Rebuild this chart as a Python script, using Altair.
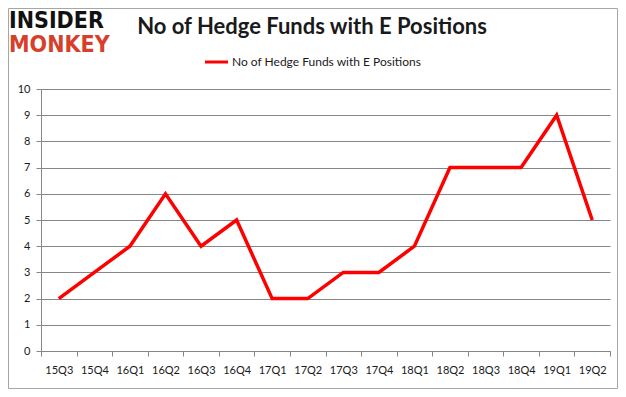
import altair as alt
import pandas as pd

quarters = ["15Q3", "15Q4", "16Q1", "16Q2", "16Q3", "16Q4", "17Q1", "17Q2",
            "17Q3", "17Q4", "18Q1", "18Q2", "18Q3", "18Q4", "19Q1", "19Q2"]
funds = [2, 3, 4, 6, 4, 5, 2, 2, 3, 3, 4, 7, 7, 7, 9, 5]
series_name = "No of Hedge Funds with E Positions"
title_text = "No of Hedge Funds with E Positions"

df = pd.DataFrame({"quarter": quarters, "funds": funds})

W, H = 569, 262
FONT = "Lato"

base = alt.Chart(df)

line = base.mark_line(color="#ff0000", strokeWidth=3.5).encode(
    x=alt.X("quarter:N", sort=quarters,
            scale=alt.Scale(type="band", paddingInner=0, paddingOuter=0),
            axis=alt.Axis(title=None, labelAngle=0, tickBand="extent",
                          grid=False, domainColor="#868686", tickColor="#868686",
                          tickSize=5, labelPadding=8, labelFont=FONT,
                          labelFontSize=11, labelColor="#1a1a1a")),
    y=alt.Y("funds:Q",
            scale=alt.Scale(domain=[0, 10], nice=False),
            axis=alt.Axis(title=None, values=list(range(0, 11)), grid=True,
                          gridColor="#868686", domainColor="#868686",
                          tickColor="#868686", tickSize=5, labelPadding=6,
                          labelFont=FONT, labelFontSize=11, labelColor="#1a1a1a")),
)

one = pd.DataFrame({"k": [0]})

frame = alt.Chart(one).mark_rect(fill=None, stroke="#a6a6a6", strokeWidth=1).encode(
    x=alt.value(-32.5), x2=alt.value(576.5), y=alt.value(-80.5), y2=alt.value(299.5)
)

title = alt.Chart(one).mark_text(
    text=title_text, font=FONT, fontSize=22, fontWeight="bold", color="#1a1a1a",
    align="center", baseline="middle"
).encode(x=alt.value(271), y=alt.value(-62))

legend_line = alt.Chart(one).mark_rule(color="#ff0000", strokeWidth=3).encode(
    x=alt.value(164), x2=alt.value(187), y=alt.value(-27)
)
legend_text = alt.Chart(one).mark_text(
    text=series_name, font=FONT, fontSize=12, color="#1a1a1a",
    align="left", baseline="middle"
).encode(x=alt.value(191), y=alt.value(-27))

logo1 = alt.Chart(one).mark_text(
    text="INSIDER", font="DejaVu Sans Condensed", fontSize=23, fontWeight="bold",
    color="#111111", align="left", baseline="middle"
).encode(x=alt.value(-32), y=alt.value(-68))
logo2 = alt.Chart(one).mark_text(
    text="MONKEY", font="DejaVu Sans Condensed", fontSize=23, fontWeight="bold",
    color="#d83f2b", align="left", baseline="middle"
).encode(x=alt.value(-32), y=alt.value(-44))

chart = alt.layer(line, frame, title, legend_line, legend_text, logo1, logo2).properties(
    width=W, height=H,
    autosize=alt.AutoSizeParams(type="none"),
    padding={"left": 33, "top": 81, "right": 8, "bottom": 38},
).configure_view(stroke=None)

chart.save("out.html", embed_options={"renderer": "svg", "actions": False})
